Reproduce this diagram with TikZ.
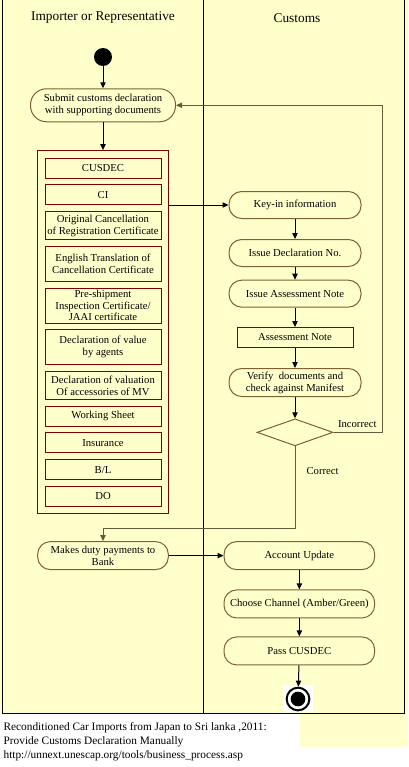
\documentclass[tikz,border=0pt]{standalone}
\usepackage{fontspec}
\setmainfont{Liberation Serif}
\usetikzlibrary{fit, positioning, calc, arrows.meta, shapes.geometric}

\definecolor{lanefill}{RGB}{255,255,204}
\definecolor{actdraw}{RGB}{128,96,48}
\definecolor{docdraw}{RGB}{128,0,0}
\definecolor{flowgray}{RGB}{100,90,60}

\begin{document}
\begin{tikzpicture}[
        x=0.75pt, y=-0.75pt,
        font=\fontsize{8}{9}\selectfont,
        action/.style={rectangle, rounded corners=9.5pt, draw=actdraw, fill=lanefill, line width=0.75pt, minimum width=99pt, minimum height=20.25pt, inner sep=1pt, align=center},
        docbox/.style={rectangle, draw=docdraw, fill=lanefill, line width=0.75pt, minimum width=87pt, minimum height=15pt, inner sep=1pt, align=center},
        decision/.style={diamond, draw=actdraw, fill=lanefill, line width=0.75pt, minimum width=57pt, minimum height=20.25pt, inner sep=0pt},
        startdot/.style={circle, fill=black, minimum size=13.5pt, inner sep=0pt},
        enddot/.style={circle, draw=black, fill=white, line width=1.5pt, minimum size=17pt, inner sep=0pt, path picture={\fill[black] (path picture bounding box.center) circle (5.5pt);}},
        arrow/.style={-{Triangle[length=4.5pt, width=4pt]}, line width=0.75pt, draw=black},
        flow/.style={arrow, draw=flowgray},
        container/.style={draw=docdraw, line width=0.75pt, inner sep=5.25pt},
        heading/.style={font=\fontsize{10}{12}\selectfont}
    ]
        % --- PAGE AND SWIMLANES ---
        \useasboundingbox (0,0) rectangle (408,767);
        \fill[white] (0,0) rectangle (408,767);
        \fill[lanefill] (0,0) rectangle (408,713);
        \fill[lanefill] (300,713) rectangle (408,747);
        \draw[line width=0.75pt] (2,-1) rectangle (404,713);
        \draw[line width=0.75pt] (203,-1) -- (203,713);
        \node[heading] (imptitle) at (103,18) {Importer or Representative};
        \node[heading] (custitle) at (297,18) {Customs};
        
        % --- IMPORTER LANE ---
        \node[startdot] (start) at (103,57) {};
        \node[action, below=16.5pt of start, minimum width=108.75pt, minimum height=24.75pt, rounded corners=12pt] (submit) {Submit customs declaration\\with supporting documents};
        
        \node[docbox, below=26.5pt of submit] (cusdec) {CUSDEC};
        \node[docbox, below=4.3pt of cusdec] (ci) {CI};
        \node[docbox, below=4.3pt of ci, minimum height=21pt] (origcert) {Original Cancellation\\of Registration Certificate};
        \node[docbox, below=4.3pt of origcert, minimum height=26.25pt] (engtrans) {English Translation of\\Cancellation Certificate};
        \node[docbox, below=4.3pt of engtrans, minimum height=26.25pt, inner ysep=0pt, font=\fontsize{8}{8.5}\selectfont] (preship) {Pre-shipment\\Inspection Certificate/\\JAAI certificate};
        \node[docbox, below=4.3pt of preship, minimum height=26.25pt] (valagent) {Declaration of value\\by agents};
        \node[docbox, below=4.3pt of valagent, minimum height=21pt] (valaccess) {Declaration of valuation\\Of accessories of MV};
        \node[docbox, below=4.3pt of valaccess] (worksheet) {Working Sheet};
        \node[docbox, below=4.3pt of worksheet] (insurance) {Insurance};
        \node[docbox, below=4.3pt of insurance] (billading) {B/L};
        \node[docbox, below=4.3pt of billading] (delorder) {DO};
        \node[container, fit=(cusdec) (delorder)] (docset) {};
        
        \node[action, below=20pt of docset, minimum width=98pt, minimum height=21pt] (payment) {Makes duty payments to\\Bank};
        
        % --- CUSTOMS LANE ---
        \node[action] (keyin) at (295,205) {Key-in information};
        \node[action, below=15pt of keyin] (declno) {Issue Declaration No.};
        \node[action, below=9.5pt of declno] (assessissue) {Issue Assessment Note};
        \node[docbox, below=14.5pt of assessissue] (assessnote) {Assessment Note};
        \node[action, below=15pt of assessnote, minimum height=21pt] (verify) {Verify\ \ documents and\\check against Manifest};
        \node[decision, below=16pt of verify] (check) {};
        
        \node[action, right=41pt of payment, minimum width=113pt, minimum height=21pt] (accupdate) {Account Update};
        \node[action, below=14.5pt of accupdate, minimum width=113pt, minimum height=21pt] (channel) {Choose Channel (Amber/Green)};
        \node[action, below=13.5pt of channel, minimum width=113pt, minimum height=21pt] (passcus) {Pass CUSDEC};
        \fill[white] (283,685) rectangle (313,712);
        \node[enddot] (finish) at (298,699) {};
        
        % --- CONNECTIONS ---
        \draw[arrow] (start) -- (submit);
        \draw[arrow] (submit) -- (docset);
        \draw[arrow] (docset.east |- keyin) -- (keyin);
        \draw[arrow] (keyin) -- (declno);
        \draw[arrow] (declno) -- (assessissue);
        \draw[arrow] (assessissue) -- (assessnote);
        \draw[arrow] (assessnote) -- (verify);
        \draw[arrow] (verify) -- (check);
        \draw[flow] (check.east) node[above right, inner sep=3pt] {Incorrect} -- ++(49,0) |- (submit.east);
        \draw[flow] (check.south) -- node[pos=0.3, right=5pt] {Correct} ++(0,82) -| (payment.north);
        \draw[arrow] (payment) -- (accupdate);
        \draw[arrow] (accupdate) -- (channel);
        \draw[arrow] (channel) -- (passcus);
        \draw[arrow] (passcus) -- (finish);
        
        % Source note
        \node[anchor=west, align=left, inner sep=1pt, font=\fontsize{8.5}{10.5}\selectfont] (source) at (2,742) {Reconditioned Car Imports from Japan to Sri lanka ,2011:\\Provide Customs Declaration Manually\\http://unnext.unescap.org/tools/business\_process.asp};
        
    \end{tikzpicture}
\end{document}
